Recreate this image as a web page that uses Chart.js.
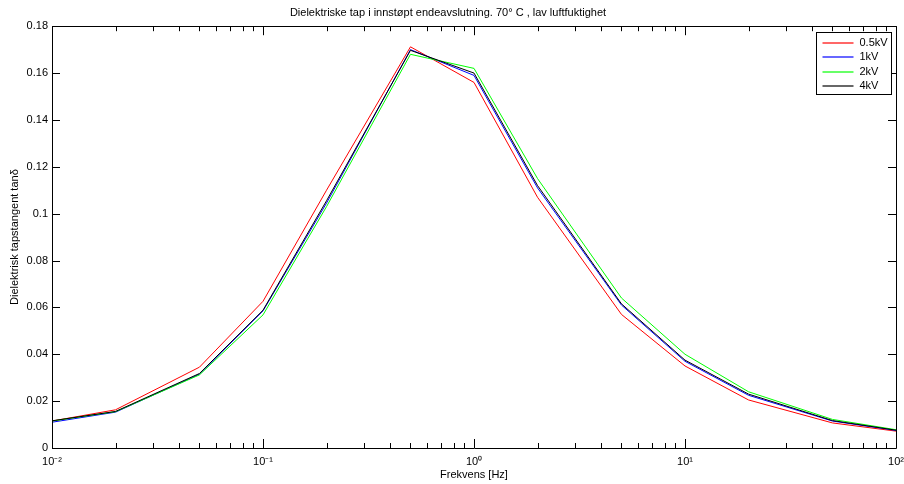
<!DOCTYPE html>
<html>
<head>
<meta charset="utf-8">
<script src="https://cdn.jsdelivr.net/npm/chart.js@4/dist/chart.umd.min.js"></script>
<style>
    html, body { margin: 0; padding: 0; background: #fff; }
    #wrap { width: 904px; height: 484px; }
</style>
</head>
<body>
<div id="wrap"><canvas id="myChart"></canvas></div>

<script>
    // frekvens [Hz]
    var frekvens = [0.01, 0.02, 0.05, 0.1, 0.2, 0.5, 1, 2, 5, 10, 20, 50, 100];

    // tan delta per spenning
    var tan_05kV = [0.0115, 0.0163, 0.0345, 0.0626, 0.110, 0.1712, 0.1560, 0.1070, 0.0570, 0.0350, 0.0205, 0.0107, 0.0072];
    var tan_1kV  = [0.0110, 0.0153, 0.0315, 0.0585, 0.1045, 0.1700, 0.1590, 0.1110, 0.0610, 0.0370, 0.0225, 0.0115, 0.0075];
    var tan_2kV  = [0.0115, 0.0155, 0.0312, 0.0568, 0.1030, 0.1680, 0.1620, 0.1150, 0.0640, 0.0400, 0.0240, 0.0122, 0.0078];
    var tan_4kV  = [0.0116, 0.0156, 0.0318, 0.0588, 0.1055, 0.1697, 0.1600, 0.1120, 0.0615, 0.0375, 0.0230, 0.0117, 0.0076];

    var labels = ['0.5kV', '1kV', '2kV', '4kV'];
    var farger = ['#ff0000', '#0000ff', '#00ff00', '#000000'];

    var yTicks = [0, 0.02, 0.04, 0.06, 0.08, 0.1, 0.12, 0.14, 0.16, 0.18];
    var sup = { '-': '\u207B', '0': '\u2070', '1': '\u00B9', '2': '\u00B2' };

    function punkter(verdier) {
        var p = [];
        for (var i = 0; i < frekvens.length; i++) {
            p.push({ x: frekvens[i], y: verdier[i] });
        }
        return p;
    }

    // box, inward ticks and legend like matlab
    var matlabBox = {
        id: 'matlabBox',
        afterDraw: function (chart) {
            var ctx = chart.ctx;
            var a = chart.chartArea;
            var xs = chart.scales.x;
            var ys = chart.scales.y;
            ctx.save();
            ctx.strokeStyle = '#000';
            ctx.lineWidth = 1;
            ctx.beginPath();
            ctx.rect(Math.round(a.left) + 0.5, Math.round(a.top) + 0.5, Math.round(a.right - a.left), Math.round(a.bottom - a.top));
            ctx.stroke();

            ctx.beginPath();
            xs.ticks.forEach(function (t) {
                var px = Math.round(xs.getPixelForValue(t.value)) + 0.5;
                var e = Math.log10(t.value);
                var len = Math.abs(e - Math.round(e)) < 1e-9 ? 9 : 5;
                ctx.moveTo(px, a.bottom);
                ctx.lineTo(px, a.bottom - len);
                ctx.moveTo(px, a.top);
                ctx.lineTo(px, a.top + len);
            });
            ys.ticks.forEach(function (t) {
                var py = Math.round(ys.getPixelForValue(t.value)) + 0.5;
                ctx.moveTo(a.left, py);
                ctx.lineTo(a.left + 8, py);
                ctx.moveTo(a.right, py);
                ctx.lineTo(a.right - 8, py);
            });
            ctx.stroke();

            // legend
            var bx = Math.round(a.right) - 79.5, by = Math.round(a.top) + 6.5, bw = 75, bh = 62;
            ctx.fillStyle = '#fff';
            ctx.fillRect(bx, by, bw, bh);
            ctx.strokeStyle = '#000';
            ctx.strokeRect(bx, by, bw, bh);
            ctx.font = '11px "Liberation Sans", Arial, sans-serif';
            ctx.textBaseline = 'middle';
            for (var i = 0; i < labels.length; i++) {
                var yy = Math.round(by + 10 + i * 14.5);
                ctx.strokeStyle = farger[i];
                ctx.lineWidth = 1.2;
                ctx.beginPath();
                ctx.moveTo(bx + 6, yy);
                ctx.lineTo(bx + 37, yy);
                ctx.stroke();
                ctx.fillStyle = '#000';
                ctx.fillText(labels[i], bx + 43, yy);
            }
            ctx.restore();
        }
    };

    function lagDatasett(i, verdier) {
        return {
            label: labels[i],
            data: punkter(verdier),
            borderColor: farger[i],
            backgroundColor: farger[i],
            borderWidth: 1,
            pointRadius: 0,
            tension: 0,
            order: 3 - i
        };
    }

    var ctx = document.getElementById('myChart').getContext('2d');
    var chart = new Chart(ctx, {
        type: 'line',
        data: {
            datasets: [
                lagDatasett(0, tan_05kV),
                lagDatasett(1, tan_1kV),
                lagDatasett(2, tan_2kV),
                lagDatasett(3, tan_4kV)
            ]
        },
        options: {
            responsive: true,
            maintainAspectRatio: false,
            animation: false,
            layout: { padding: { left: 0, right: 8, top: 0, bottom: 0 } },
            plugins: {
                legend: { display: false },
                tooltip: { enabled: false },
                title: {
                    display: true,
                    text: 'Dielektriske tap i innstøpt endeavslutning. 70° C , lav luftfuktighet',
                    color: '#000',
                    font: { family: '"Liberation Sans", Arial, sans-serif', size: 11, weight: 'normal' },
                    padding: { top: 6, bottom: 7 }
                }
            },
            scales: {
                x: {
                    type: 'logarithmic',
                    min: 0.01,
                    max: 100,
                    grid: { display: false, drawTicks: false },
                    border: { display: false },
                    afterBuildTicks: function (scale) {
                        var t = [];
                        for (var e = -2; e <= 2; e++) {
                            for (var m = 1; m <= 9; m++) {
                                if (e === 2 && m > 1) break;
                                t.push({ value: m * Math.pow(10, e) });
                            }
                        }
                        scale.ticks = t;
                    },
                    afterFit: function (scale) {
                        scale.height = 36;
                        scale.paddingLeft = 0;
                        scale.paddingRight = 0;
                    },
                    ticks: {
                        autoSkip: false,
                        maxRotation: 0,
                        padding: 7,
                        color: '#000',
                        font: { family: '"Liberation Sans", Arial, sans-serif', size: 11 },
                        callback: function (v) {
                            var e = Math.log10(v);
                            if (Math.abs(e - Math.round(e)) > 1e-9) return '';
                            var s = String(Math.round(e)).split('').map(function (c) { return sup[c]; }).join('');
                            return '10' + s;
                        }
                    },
                    title: {
                        display: true,
                        text: 'Frekvens [Hz]',
                        color: '#000',
                        font: { family: '"Liberation Sans", Arial, sans-serif', size: 11 },
                        padding: { top: 0, bottom: 2 }
                    }
                },
                y: {
                    min: 0,
                    max: 0.18,
                    grid: { display: false, drawTicks: false },
                    border: { display: false },
                    afterBuildTicks: function (scale) {
                        scale.ticks = yTicks.map(function (v) { return { value: v }; });
                    },
                    afterFit: function (scale) { scale.width = 52; },
                    ticks: {
                        padding: 4,
                        color: '#000',
                        font: { family: '"Liberation Sans", Arial, sans-serif', size: 11 },
                        callback: function (v) { return String(Math.round(v * 100) / 100); }
                    },
                    title: {
                        display: true,
                        text: 'Dielektrisk tapstangent tanδ',
                        color: '#000',
                        font: { family: '"Liberation Sans", Arial, sans-serif', size: 11 },
                        padding: { top: 8, bottom: 0 }
                    }
                }
            }
        },
        plugins: [matlabBox]
    });
</script>
</body>
</html>
